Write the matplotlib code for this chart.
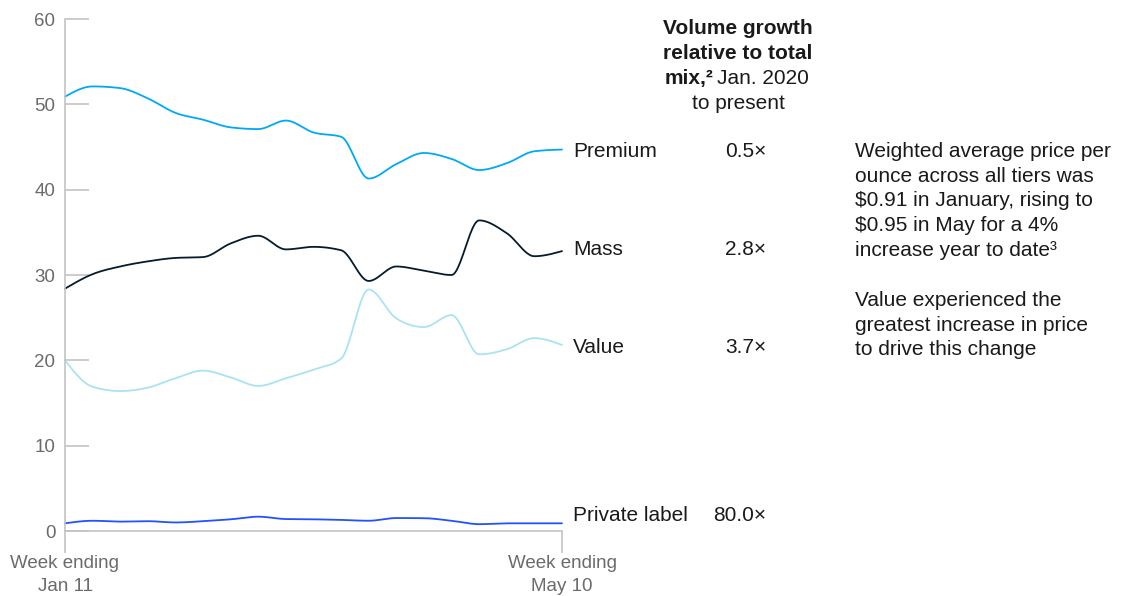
import numpy as np
import matplotlib.pyplot as plt

plt.rcParams['font.family'] = ['Liberation Sans', 'DejaVu Sans']

# weekly price per ounce by tier, week ending Jan 11 through May 10
weeks = np.arange(19)
premium = [50.9, 52.1, 51.9, 50.7, 49.0, 48.2, 47.3, 47.1, 48.1, 46.7,
           46.2, 41.3, 43.0, 44.3, 43.6, 42.3, 43.1, 44.5, 44.7]
mass = [28.4, 30.1, 31.0, 31.6, 32.0, 32.1, 33.7, 34.6, 33.0, 33.3,
        32.9, 29.3, 31.0, 30.5, 30.0, 36.4, 34.9, 32.2, 32.8]
value = [20.0, 16.9, 16.4, 16.8, 17.9, 18.8, 18.0, 17.0, 17.9, 18.9,
         20.2, 28.3, 24.9, 23.9, 25.3, 20.7, 21.3, 22.6, 21.8]
private_label = [0.9, 1.2, 1.1, 1.15, 1.0, 1.15, 1.37, 1.68, 1.4, 1.37,
                 1.3, 1.2, 1.52, 1.5, 1.2, 0.8, 0.9, 0.9, 0.9]

tiers = ['Premium', 'Mass', 'Value', 'Private label']
growth = ['0.5×', '2.8×', '3.7×', '80.0×']
tick_labels = ['Week ending\nJan 11', 'Week ending\nMay 10']
colors = ['#00a9f4', '#051c2c', '#a9e3f2', '#2251ff']

W, H = 1122, 596


def monotone(x, y, n=24):
    # monotone cubic (Steffen-style) interpolation for a smooth line
    x = np.asarray(x, float)
    y = np.asarray(y, float)
    h = np.diff(x)
    s = np.diff(y) / h
    m = np.zeros_like(y)
    for i in range(1, len(y) - 1):
        p = (s[i - 1] * h[i] + s[i] * h[i - 1]) / (h[i - 1] + h[i])
        m[i] = (np.sign(s[i - 1]) + np.sign(s[i])) * min(abs(s[i - 1]), abs(s[i]), 0.5 * abs(p))
    m[0] = (3 * s[0] - m[1]) / 2
    m[-1] = (3 * s[-1] - m[-2]) / 2
    xs, ys = [], []
    for i in range(len(h)):
        t = np.linspace(0, 1, n, endpoint=False)
        h00 = 2 * t**3 - 3 * t**2 + 1
        h10 = t**3 - 2 * t**2 + t
        h01 = -2 * t**3 + 3 * t**2
        h11 = t**3 - t**2
        xs.append(x[i] + t * h[i])
        ys.append(h00 * y[i] + h10 * h[i] * m[i] + h01 * y[i + 1] + h11 * h[i] * m[i + 1])
    xs.append([x[-1]])
    ys.append([y[-1]])
    return np.concatenate(xs), np.concatenate(ys)


fig = plt.figure(figsize=(W / 100, H / 100), dpi=100)
ax = fig.add_axes([65 / W, 1 - 531 / H, 497 / W, 512 / H])

for data, c in zip([premium, mass, value, private_label], colors):
    sx, sy = monotone(weeks, data)
    ax.plot(sx, sy, color=c, lw=1.3, solid_capstyle='round', clip_on=False)

ax.set_xlim(0, 18)
ax.set_ylim(0, 60)
for side in ['top', 'right']:
    ax.spines[side].set_visible(False)
for side in ['left', 'bottom']:
    ax.spines[side].set_color('#c4c4c4')
    ax.spines[side].set_linewidth(1.2)

ax.set_yticks(range(0, 61, 10))
ax.tick_params(axis='y', direction='in', length=17, width=1.2, color='#c4c4c4',
               labelsize=13.5, labelcolor='#6b6b6b', pad=7)
ax.set_xticks([0, 18])
ax.set_xticklabels(tick_labels, linespacing=1.42)
ax.tick_params(axis='x', direction='out', length=16, width=1.2, color='#c4c4c4',
               labelsize=13.5, labelcolor='#6b6b6b', pad=1.5)


def ftext(x, y, s, **kw):
    fig.text(x / W, 1 - y / H, s, va='baseline', color='#1a1a1a', fontsize=15, **kw)


# tier labels and growth multiples
rows = [157, 255, 353, 521]
for name, g, yb in zip(tiers, growth, rows):
    ftext(573, yb, name, ha='left')
    ftext(766, yb, g, ha='right')

# column header
ftext(738, 34, 'Volume growth', ha='center', weight='bold')
ftext(738, 59, 'relative to total', ha='center', weight='bold')
ftext(714, 84, 'mix,²', ha='right', weight='bold')
ftext(717, 84, 'Jan. 2020', ha='left')
ftext(738, 109, 'to present', ha='center')

# side note
note1 = ['Weighted average price per', 'ounce across all tiers was',
         '$0.91 in January, rising to', '$0.95 in May for a 4%',
         'increase year to date³']
note2 = ['Value experienced the', 'greatest increase in price',
         'to drive this change']
for i, line in enumerate(note1):
    ftext(855, 157 + 24.7 * i, line, ha='left')
for i, line in enumerate(note2):
    ftext(855, 306 + 24.7 * i, line, ha='left')

fig.savefig('out.png', dpi=100)
